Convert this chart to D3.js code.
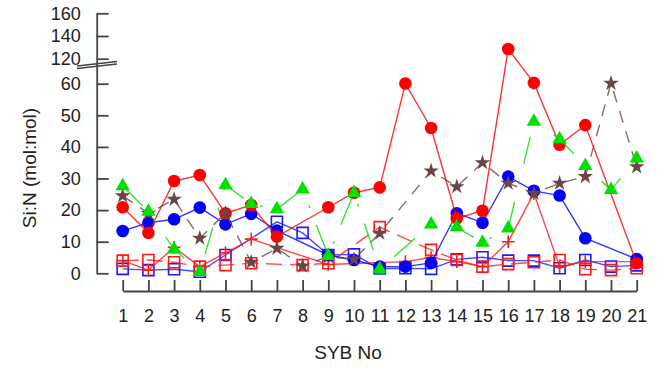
<!DOCTYPE html>
<html><head><meta charset="utf-8">
<script src="https://cdn.jsdelivr.net/npm/d3@7"></script>
<style>body{margin:0;background:#fff} text{font-family:"Liberation Sans",Arial,sans-serif}</style>
</head><body><svg id="c" width="664" height="372"></svg>
<script>
const sybNo = [1,2,3,4,5,6,7,8,9,10,11,12,13,14,15,16,17,18,19,20,21];
const yTicks = [0,10,20,30,40,50,60,120,140,160];
const redCircle  = [20.9,12.8,29.2,31.1,19,21.6,11.6,null,20.9,25.5,27.2,60.4,46,17.4,19.8,128.5,62,40.7,46.9,null,3.2];
const blueCircle = [13.4,16,17.1,20.8,15.5,18.8,13.5,null,5.8,4.2,2.1,2.1,3.3,19,16,30.6,26.1,24.6,11.1,null,4.5];
const greenTri   = [27.6,19.5,7.6,0.5,27.9,22,20.3,26.6,5.5,25.5,1.3,null,15.5,14.6,9.7,14.2,48,42.5,34,26.4,36.4];
const brownStar  = [24.5,19,23.4,11.1,19,3.5,7.9,2.3,5.3,4.4,12.7,null,32.4,27.4,35,28.5,25.3,28.5,30.6,61,33.7];
const blueSquare = [1.4,1.0,1.3,0.5,5.8,null,16.3,12.8,5.8,6,1.5,1.6,1.4,4.4,5.1,4,4,1.6,4.2,2.1,2.5];
const redSquare  = [4,4.2,3.5,2.1,2.6,3.2,null,2.6,3.2,null,14.6,null,7.4,4.2,2.1,2.9,3.5,4.2,1.3,1,1.6];
const redPlus    = [4,1,8.2,2.1,6.5,10.8,null,null,2.8,null,null,3.7,5,3.7,2.1,10,25.3,2.1,3.7,null,3.7];

const svg = d3.select("#c");
svg.append("rect").attr("width",664).attr("height",372).attr("fill","#fff");

const x = d3.scaleLinear().domain([1,21]).range([122.7,636.7]);
const y = d3.scaleLinear().domain([0,60,120,160]).range([273.3,83.7,58.7,13.3]);

const axisCol = "#444";
// y axis
const ya = svg.append("g").attr("transform","translate(96.7,0)")
  .call(d3.axisLeft(y).tickValues(yTicks).tickSizeInner(-12).tickSizeOuter(0).tickPadding(16));
ya.selectAll("path,line").attr("stroke",axisCol).attr("stroke-width",1.8);
ya.selectAll("text").attr("font-size",18).attr("fill","#222").attr("font-family","Liberation Sans, Arial, sans-serif");
// axis break marks
const brk = svg.append("g").attr("stroke","#444").attr("stroke-width",1.3).attr("fill","none");
brk.append("line").attr("x1",77).attr("y1",66).attr("x2",117).attr("y2",61.5);
brk.append("line").attr("x1",77).attr("y1",68.5).attr("x2",117).attr("y2",64);

// x axis
const xa = svg.append("g").attr("transform","translate(0,291)")
  .call(d3.axisBottom(x).tickValues(sybNo).tickFormat(d3.format("d")).tickSizeInner(-11).tickSizeOuter(0).tickPadding(18));
xa.selectAll("path,line").attr("stroke",axisCol).attr("stroke-width",1.8);
xa.selectAll("text").attr("font-size",18).attr("fill","#222").attr("font-family","Liberation Sans, Arial, sans-serif");

svg.append("text").attr("x",348).attr("y",359).attr("text-anchor","middle")
  .attr("font-size",19).attr("fill","#222").text("SYB No");
svg.append("text").attr("transform","translate(36,168) rotate(-90)").attr("text-anchor","middle")
  .attr("font-size",19).attr("fill","#222").text("Si:N (mol:mol)");

const plusSym = {draw(ctx,size){const r=Math.sqrt(size)/2;ctx.moveTo(-r,0);ctx.lineTo(r,0);ctx.moveTo(0,-r);ctx.lineTo(0,r);}};

function series(vals,color,dash,sym,size,filled){
  const pts = sybNo.map((n,i)=>({n,v:vals[i]})).filter(d=>d.v!=null);
  const line = d3.line().x(d=>x(d.n)).y(d=>y(d.v));
  svg.append("path").datum(pts).attr("d",line).attr("fill","none")
    .attr("stroke",color).attr("stroke-width",1.4).attr("stroke-opacity",0.8)
    .attr("stroke-dasharray",dash);
  svg.append("g").selectAll("path").data(pts).join("path")
    .attr("transform",d=>`translate(${x(d.n)},${y(d.v)})`)
    .attr("d",d3.symbol(sym,size))
    .attr("fill",filled?color:"none").attr("stroke",color).attr("stroke-width",filled?0:1.6);
}
series(blueSquare,"#1a1aff",null,d3.symbolSquare,121,false);
series(redSquare,"#ff1a1a","16,8",d3.symbolSquare,121,false);
series(redPlus,"#ff1a1a",null,plusSym,160,false);
series(blueCircle,"#0000ff",null,d3.symbolCircle,125,true);
series(redCircle,"#ff0000",null,d3.symbolCircle,125,true);
series(brownStar,"#6b4444","12,9",d3.symbolStar,75,true);
series(greenTri,"#00e000","28,18,3,18",d3.symbolTriangle,90,true);
</script></body></html>
